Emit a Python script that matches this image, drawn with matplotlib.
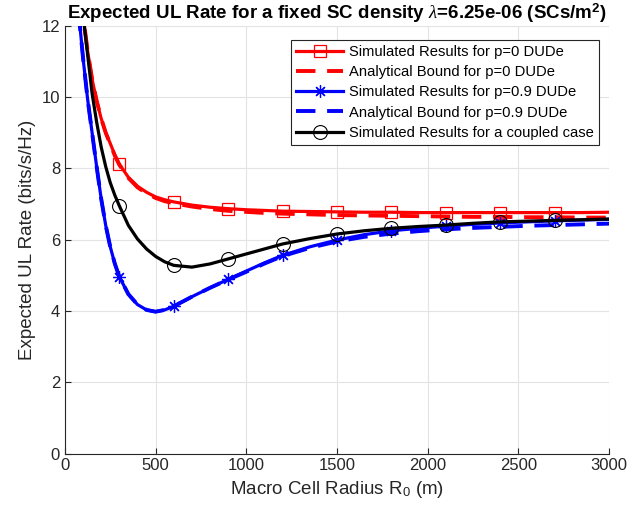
import numpy as np
import matplotlib
matplotlib.use("Agg")
import matplotlib.pyplot as plt

plt.rcParams['font.family'] = ['Liberation Sans', 'DejaVu Sans']
plt.rcParams['mathtext.fontset'] = 'custom'
plt.rcParams['mathtext.rm'] = 'Liberation Sans'
plt.rcParams['mathtext.it'] = 'Liberation Serif:italic'
plt.rcParams['mathtext.bf'] = 'Liberation Sans:bold'

# Macro cell radius grid (m)
R0 = [75, 100, 125, 150, 175, 200, 225, 250, 275, 300, 350, 400, 450, 500, 550,
      600, 700, 800, 900, 1000, 1100, 1200, 1350, 1500, 1650, 1800, 1950, 2100,
      2250, 2400, 2550, 2700, 2850, 3000]

sim_p0 = [13.5, 12.3, 11.3, 10.5, 9.9, 9.4, 9.0, 8.7, 8.38, 8.12, 7.75, 7.5, 7.33,
          7.2, 7.12, 7.06, 6.97, 6.91, 6.87, 6.84, 6.82, 6.8, 6.79, 6.78, 6.77,
          6.77, 6.76, 6.76, 6.76, 6.76, 6.76, 6.76, 6.76, 6.77]
ana_p0 = [13.5, 12.3, 11.3, 10.5, 9.9, 9.4, 9.0, 8.68, 8.36, 8.1, 7.73, 7.47, 7.3,
          7.17, 7.08, 7.02, 6.93, 6.86, 6.81, 6.78, 6.75, 6.73, 6.71, 6.69, 6.68,
          6.67, 6.66, 6.65, 6.64, 6.64, 6.63, 6.63, 6.62, 6.62]
sim_p09 = [12.4, 11.1, 9.95, 9.0, 8.05, 7.15, 6.4, 5.8, 5.33, 4.96, 4.47, 4.18, 4.03,
           3.98, 4.03, 4.13, 4.4, 4.65, 4.89, 5.12, 5.35, 5.56, 5.8, 5.99, 6.14,
           6.25, 6.32, 6.38, 6.43, 6.47, 6.5, 6.53, 6.55, 6.57]
ana_p09 = [12.4, 11.1, 9.95, 9.0, 8.05, 7.15, 6.4, 5.8, 5.33, 4.96, 4.47, 4.18, 4.03,
           3.98, 4.03, 4.13, 4.4, 4.65, 4.88, 5.1, 5.33, 5.54, 5.77, 5.95, 6.08,
           6.17, 6.24, 6.29, 6.33, 6.36, 6.39, 6.41, 6.43, 6.45]
sim_coupled = [13.6, 12.3, 11.2, 10.1, 9.3, 8.6, 8.05, 7.6, 7.25, 6.95, 6.4, 6.02,
               5.74, 5.53, 5.38, 5.28, 5.23, 5.32, 5.46, 5.6, 5.74, 5.88, 6.03,
               6.16, 6.25, 6.32, 6.37, 6.41, 6.46, 6.5, 6.52, 6.54, 6.56, 6.58]

marker_x = [300, 600, 900, 1200, 1500, 1800, 2100, 2400, 2700]
mk = [R0.index(v) for v in marker_x]

fig = plt.figure(figsize=(6.3, 5.16), dpi=100)
ax = fig.add_axes([0.103, 0.121, 0.864, 0.829])

dash = (0, (5, 3))
ax.plot(R0, sim_p0, color='red', lw=2.3, marker='s', markevery=mk, ms=8,
        mfc='none', mec='red', mew=0.9, label='Simulated Results for p=0 DUDe')
ax.plot(R0, ana_p0, color='red', lw=2.8, ls=dash,
        label='Analytical Bound for p=0 DUDe')
ax.plot(R0, sim_p09, color='blue', lw=2.3, marker=(8, 2, 0), markevery=mk, ms=9,
        mec='blue', mew=0.9, label='Simulated Results for p=0.9 DUDe')
ax.plot(R0, ana_p09, color='blue', lw=2.8, ls=dash,
        label='Analytical Bound for p=0.9 DUDe')
ax.plot(R0, sim_coupled, color='black', lw=2.3, marker='o', markevery=mk, ms=10,
        mfc='none', mec='black', mew=0.8, label='Simulated Results for a coupled case')

ax.set_xlim(0, 3000)
ax.set_ylim(0, 12)
ax.set_xticks(np.arange(0, 3001, 500))
ax.set_yticks(np.arange(0, 13, 2))
ax.grid(True, color='#e3e3e3', lw=0.8)
ax.set_axisbelow(True)
for s in ['top', 'right']:
    ax.spines[s].set_visible(False)
for s in ['left', 'bottom']:
    ax.spines[s].set_color('#262626')
    ax.spines[s].set_linewidth(0.8)
ax.tick_params(direction='in', labelsize=12, colors='#262626', length=4)

ax.set_xlabel('Macro Cell Radius R$_0$ (m)', fontsize=13.5, color='#262626')
ax.set_ylabel('Expected UL Rate (bits/s/Hz)', fontsize=13.5, color='#262626')
ax.set_title(r'Expected UL Rate for a fixed SC density $\lambda$=6.25e-06 (SCs/m$^\mathbf{2}$)',
             fontsize=13.5, fontweight='bold', pad=5)

leg = ax.legend(loc='upper right', bbox_to_anchor=(0.982, 0.967), borderaxespad=0,
                fontsize=10.6, handlelength=3.2, fancybox=False, framealpha=1,
                edgecolor='#262626', borderpad=0.35, labelspacing=0.42,
                handletextpad=0.4)
leg.get_frame().set_linewidth(0.8)

fig.savefig('out.png', dpi=100)
